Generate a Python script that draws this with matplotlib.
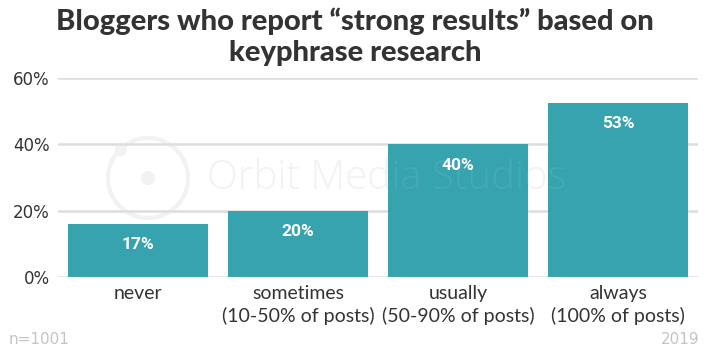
import numpy as np
import matplotlib.pyplot as plt
from matplotlib.patches import Ellipse

# data
categories = ['never', 'sometimes\n(10-50% of posts)', 'usually\n(50-90% of posts)', 'always\n(100% of posts)']
values = [16, 20, 40, 52.5]
value_labels = ['17%', '20%', '40%', '53%']
yticks = [0, 20, 40, 60]

bar_color = '#37a3ae'
text_color = '#333333'
wm_color = '#f1f1f1'

fig = plt.figure(figsize=(7.1, 3.55), dpi=100)
ax = fig.add_axes([0.0817, 0.2197, 0.9013, 0.5606])

x = np.arange(len(categories))
bars = ax.bar(x, values, width=0.875, color=bar_color, zorder=3)

for b, lab in zip(bars, value_labels):
    ax.annotate(lab, (b.get_x() + b.get_width() / 2, b.get_height()),
                xytext=(0, -15), textcoords='offset points',
                ha='center', va='center', color='white',
                fontsize=12.5, fontweight='bold', family='Roboto', zorder=4)

ax.set_xlim(-0.5, 3.5)
ax.set_ylim(0, 60)
ax.set_yticks(yticks)
ax.set_yticklabels([f'{t}%' for t in yticks], fontsize=12, color=text_color, family='DejaVu Sans')
ax.set_xticks(x)
ax.set_xticklabels(categories, fontsize=14, color=text_color, family='Lato', linespacing=1.3)
ax.tick_params(length=0, pad=6)
ax.tick_params(axis='x', pad=6)
ax.grid(axis='y', color='#dddddd', linewidth=1.8, zorder=0)
for s in ax.spines.values():
    s.set_visible(False)
ax.set_zorder(1)
ax.patch.set_alpha(0)

# faint watermark: grey copy behind the bars, pale copy over them
W, H = 710.0, 355.0
for col, a, z in [(wm_color, 1.0, -1), ('white', 0.08, 5)]:
    fig.text(0.292, 0.498, 'Orbit Media Studios', fontsize=29, color=col, alpha=a,
             family='Open Sans', fontweight='light', va='center', zorder=z)
    for cx, cy, r, fill in [(148, 178, 40, False), (148, 178, 7, True), (121, 150, 6, True)]:
        e = Ellipse((cx / W, 1 - cy / H), 2 * r / W, 2 * r / H, transform=fig.transFigure,
                    fill=fill, facecolor=col, edgecolor=col, alpha=a,
                    linewidth=0 if fill else 3, zorder=z)
        fig.add_artist(e)

fig.suptitle('Bloggers who report “strong results” based on\nkeyphrase research',
             x=0.5, y=0.98, fontsize=21, fontweight='black', family='Lato',
             color=text_color, linespacing=1.25)

fig.text(0.012, 0.03, 'n=1001', fontsize=11, color='#c4c4c4')
fig.text(0.985, 0.03, '2019', fontsize=11, color='#c4c4c4', ha='right')

fig.savefig('out.png', dpi=100)
